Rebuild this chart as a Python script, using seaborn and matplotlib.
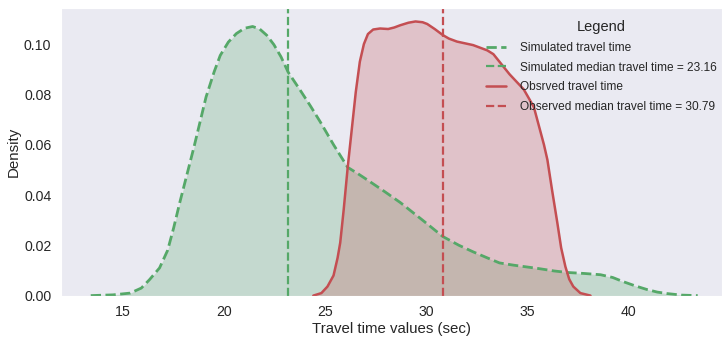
import matplotlib
matplotlib.use("Agg")
import matplotlib.pyplot as plt
import seaborn as sns

# Density curves (travel time in sec, density)
sim_time = [13.4, 14.5, 15.35, 15.9, 16.3, 16.8, 17.2, 17.5, 17.8, 18.15, 18.5, 18.8,
            19.1, 19.5, 19.8, 20.2, 20.6, 21.0, 21.4, 21.75, 22.1, 22.45, 22.8, 23.16,
            23.75, 24.25, 24.75, 25.4, 26.1, 26.6, 27.07, 27.9, 28.7, 29.8, 30.8, 31.6,
            32.3, 33.0, 33.6, 34.3, 35.5, 36.3, 36.96, 37.8, 38.6, 39.2, 39.7, 40.3,
            40.9, 41.4, 41.9, 42.6, 43.4]
sim_density = [0.0, 0.0003, 0.001, 0.003, 0.0063, 0.011, 0.018, 0.027, 0.037, 0.048,
               0.059, 0.069, 0.079, 0.089, 0.0955, 0.1008, 0.1042, 0.1063, 0.107,
               0.1060, 0.1035, 0.0998, 0.0950, 0.0888, 0.0817, 0.0755, 0.069, 0.060,
               0.051, 0.0485, 0.046, 0.0415, 0.037, 0.030, 0.0235, 0.0200, 0.0174,
               0.0150, 0.013, 0.0121, 0.0108, 0.0098, 0.0092, 0.0088, 0.0083, 0.0072,
               0.0056, 0.0039, 0.0024, 0.0014, 0.0008, 0.0002, 0.0]

obs_time = [24.4, 24.8, 25.1, 25.4, 25.6, 25.73, 25.9, 26.1, 26.3, 26.5, 26.7, 26.9,
            27.1, 27.36, 27.7, 28.1, 28.4, 28.7, 29.1, 29.45, 29.8, 30.03, 30.4, 30.8,
            31.1, 31.5, 31.9, 32.3, 33.0, 33.3, 33.7, 34.1, 34.8, 35.3, 35.6, 35.8,
            35.97, 36.2, 36.46, 36.65, 36.86, 37.05, 37.25, 37.6, 38.1]
obs_density = [0.0, 0.001, 0.0036, 0.008, 0.015, 0.021, 0.034, 0.051, 0.066, 0.081,
               0.093, 0.100, 0.1040, 0.1058, 0.1062, 0.106, 0.1066, 0.1075, 0.1085,
               0.109, 0.1087, 0.108, 0.106, 0.1036, 0.1022, 0.101, 0.1003, 0.0996,
               0.0975, 0.096, 0.092, 0.088, 0.082, 0.075, 0.066, 0.060, 0.054, 0.042,
               0.029, 0.019, 0.0115, 0.0065, 0.0036, 0.001, 0.0]

sim_median = 23.16
obs_median = 30.79

sns.set_style("dark")
plt.rcParams["font.family"] = ["Liberation Sans", "DejaVu Sans"]

green = "#55A868"
red = "#C44E52"

fig = plt.figure(figsize=(7.22, 3.39), dpi=100)
ax = fig.add_axes([0.0845, 0.128, 0.9155, 0.848])

sns.lineplot(x=sim_time, y=sim_density, ax=ax, color=green, linestyle="--",
             linewidth=2, label="Simulated travel time")
ax.fill_between(sim_time, sim_density, color=green, alpha=0.25, linewidth=0)
ax.axvline(sim_median, color=green, linestyle="--", linewidth=1.6,
           label=f"Simulated median travel time = {sim_median:.2f}")

sns.lineplot(x=obs_time, y=obs_density, ax=ax, color=red, linestyle="-",
             linewidth=1.8, label="Obsrved travel time")
ax.fill_between(obs_time, obs_density, color=red, alpha=0.25, linewidth=0)
ax.axvline(obs_median, color=red, linestyle="--", linewidth=1.6,
           label=f"Observed median travel time = {obs_median:.2f}")

ax.set_xlim(11.93, 44.6)
ax.set_ylim(0, 0.1143)
ax.set_xticks([15, 20, 25, 30, 35, 40])
ax.set_yticks([0.0, 0.02, 0.04, 0.06, 0.08, 0.10])
ax.set_yticklabels(["0.00", "0.02", "0.04", "0.06", "0.08", "0.10"])
ax.tick_params(labelsize=10.2, colors="#262626")
ax.set_xlabel("Travel time values (sec)", fontsize=10.8, color="#262626", labelpad=2)
ax.set_ylabel("Density", fontsize=10.8, color="#262626", labelpad=2)

leg = ax.legend(title="Legend", loc="upper right", bbox_to_anchor=(1.0, 0.975),
                frameon=False, fontsize=8.6, title_fontsize=10.5, borderaxespad=0.0,
                handlelength=1.7, handletextpad=1.2, labelspacing=0.65)

fig.savefig("out.png", dpi=100)
